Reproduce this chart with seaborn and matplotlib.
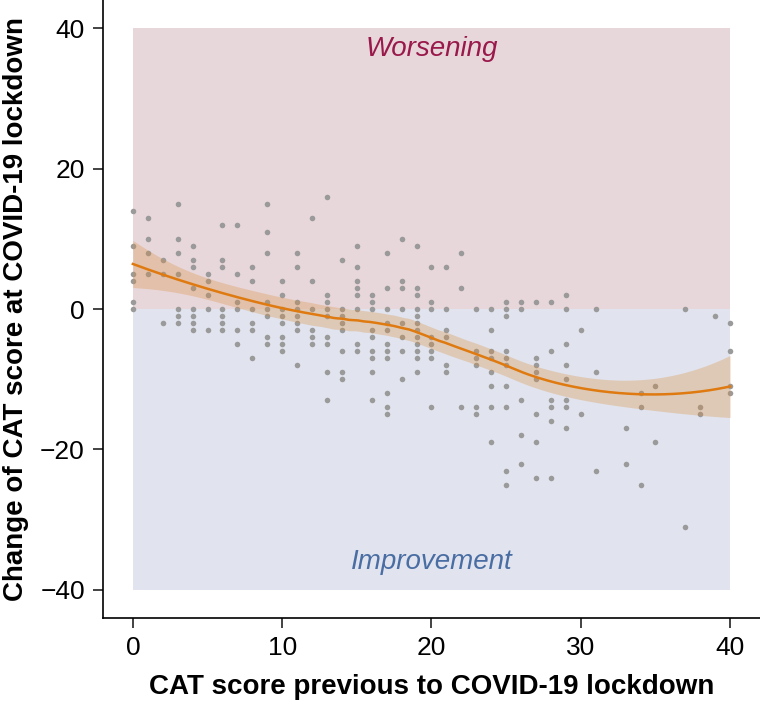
import numpy as np
import pandas as pd
import matplotlib
matplotlib.use("Agg")
import matplotlib.pyplot as plt
import seaborn as sns

# CAT score before lockdown -> list of observed changes during lockdown
cat_before = list(range(0, 41))
changes = [
    [14, 9, 5, 4, 1, 0],
    [13, 10, 8, 5],
    [7, 5, -2],
    [15, 10, 8, 5, 0, -1, -2],
    [9, 7, 6, 3, 0, -1, -2, -3],
    [5, 4, 2, 0, -3],
    [12, 7, 6, 0, -1, -2, -3],
    [12, 5, 1, 0, -3, -5],
    [6, 4, 0, -2, -3, -7],
    [15, 11, 8, 1, 0, -1, -4, -5],
    [4, 2, 0, -1, -2, -4, -5, -6],
    [8, 6, 1, 0, -1, -2, -3, -8],
    [13, 4, 0, -3, -4, -5],
    [16, 2, 1, 0, -1, -4, -5, -9, -13],
    [7, 0, -1, -2, -3, -6, -9, -10],
    [9, 6, 4, 3, 2, 0, -5, -6],
    [2, 1, 0, -3, -4, -6, -7, -9, -13],
    [8, 3, 0, -2, -3, -5, -6, -7, -12, -14, -15],
    [10, 4, 3, 0, -2, -4, -6, -10],
    [9, 3, 2, 0, -1, -2, -3, -4, -5, -6, -7, -9],
    [6, 1, 0, -4, -5, -6, -7, -14],
    [6, 0, -3, -4, -8, -9],
    [8, 3, -14],
    [0, -6, -7, -8, -14, -15],
    [0, -3, -6, -7, -9, -11, -14, -19],
    [1, 0, -1, -6, -7, -8, -11, -14, -23, -25],
    [1, 0, -13, -18, -22],
    [1, -7, -8, -9, -10, -15, -19, -24],
    [1, -6, -13, -14, -16, -24],
    [2, 0, -5, -8, -10, -13, -14, -17],
    [-3, -15],
    [0, -9, -23],
    [],
    [-17, -22],
    [-12, -14, -25],
    [-11, -19],
    [],
    [0, -31],
    [-14, -15],
    [-1],
    [-2, -6, -11, -12],
]

rows = [(x, y) for x, ys in zip(cat_before, changes) for y in ys]
df = pd.DataFrame(rows, columns=["before", "change"])


def loess_rows(x, x0s, span=0.75):
    # local quadratic fit with tricube weights; returns smoother matrix rows
    n = len(x)
    q = int(np.floor(n * span))
    out = []
    for x0 in x0s:
        d = np.abs(x - x0)
        h = np.sort(d)[q - 1]
        w = np.clip(1 - (d / h) ** 3, 0, None) ** 3
        X = np.column_stack([np.ones(n), x - x0, (x - x0) ** 2])
        XtW = X.T * w
        out.append(np.linalg.solve(XtW @ X, XtW)[0])
    return np.array(out)


xv = df["before"].to_numpy(float)
yv = df["change"].to_numpy(float)
L = loess_rows(xv, xv)
resid = yv - L @ yv
M = np.eye(len(xv)) - L
sigma = np.sqrt(resid @ resid / np.trace(M.T @ M))
grid = np.linspace(xv.min(), xv.max(), 200)
Lg = loess_rows(xv, grid)
smooth = pd.DataFrame({"before": grid, "fit": Lg @ yv})
se = sigma * np.sqrt((Lg ** 2).sum(axis=1))
smooth["lo"] = smooth["fit"] - 1.97 * se
smooth["hi"] = smooth["fit"] + 1.97 * se

plt.rcParams["font.family"] = ["Liberation Sans", "DejaVu Sans"]

fig = plt.figure(figsize=(7.6, 7.06), dpi=100)
ax = fig.add_axes([0.1355, 0.1246, 0.8645, 0.8754])

# shaded zones
ax.axhspan(0, 40, xmin=2 / 44, xmax=42 / 44, color="#e8d7da", lw=0, zorder=0)
ax.axhspan(-40, 0, xmin=2 / 44, xmax=42 / 44, color="#e1e4ee", lw=0, zorder=0)

sns.scatterplot(data=df, x="before", y="change", ax=ax, s=16,
                color="#9a9a9a", linewidth=0, zorder=2)
ax.fill_between(smooth["before"], smooth["lo"], smooth["hi"],
                color="#d98b3a", alpha=0.3, lw=0, zorder=3)
sns.lineplot(data=smooth, x="before", y="fit", ax=ax, color="#de7a10",
             lw=1.8, zorder=4)

ax.text(20, 37, "Worsening", color="#99194a", style="italic", fontsize=20,
        ha="center", va="center")
ax.text(20, -36, "Improvement", color="#4a6ea3", style="italic", fontsize=20,
        ha="center", va="center")

ax.set_xlim(-2, 42)
ax.set_ylim(-44, 44)
ax.set_xticks([0, 10, 20, 30, 40])
ax.set_yticks([-40, -20, 0, 20, 40])
ax.set_yticklabels(["\u221240", "\u221220", "0", "20", "40"])
ax.tick_params(labelsize=19, length=7, width=1.2, color="#222222", pad=6)
ax.set_xlabel("CAT score previous to COVID-19 lockdown", fontsize=20,
              fontweight="bold", labelpad=10)
ax.set_ylabel("Change of CAT score at COVID-19 lockdown", fontsize=20,
              fontweight="bold", labelpad=8)
ax.spines["top"].set_visible(False)
ax.spines["right"].set_visible(False)
for s in ("left", "bottom"):
    ax.spines[s].set_linewidth(1.2)
ax.set_facecolor("white")

fig.savefig("out.png", dpi=100)
